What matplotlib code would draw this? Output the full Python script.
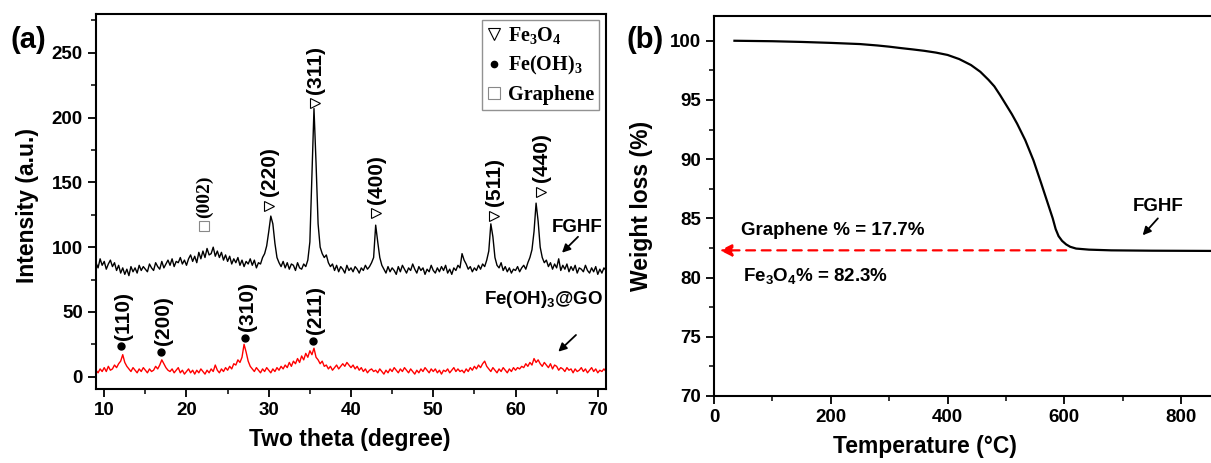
import numpy as np
import matplotlib
matplotlib.use("Agg")
import matplotlib.pyplot as plt
from matplotlib.lines import Line2D
from matplotlib.ticker import MultipleLocator

plt.rcParams['font.family'] = ['Liberation Sans', 'DejaVu Sans']
plt.rcParams['font.weight'] = 'bold'
plt.rcParams['mathtext.fontset'] = 'custom'
plt.rcParams['mathtext.bf'] = 'Liberation Serif:bold'
plt.rcParams['mathtext.sf'] = 'Liberation Sans:bold'
plt.rcParams['mathtext.rm'] = 'Liberation Sans:bold'

# ---------------- data: XRD (panel a) ----------------
theta_start, theta_step = 9.0, 0.25
fghf_intensity = [
    88, 84, 91, 86,   89, 83, 87, 90,   85, 88, 82, 86,   80, 84, 79, 83,
    78, 85, 81, 84,   80, 86, 82, 85,   83, 81, 87, 84,   82, 88, 85, 83,
    89, 84, 87, 90,   86, 91, 85, 89,   88, 92, 87, 90,   86, 91, 94, 89,
    93, 88, 96, 91,   97, 92, 99, 94,   95, 100, 93, 97,  92, 96, 90, 94,
    89, 93, 87, 91,   88, 92, 86, 90,   85, 89, 87, 91,   86, 90, 84, 88,
    87, 92, 95, 101,  112, 124, 118, 103, 92, 88, 85, 89, 84, 88, 83, 87,
    86, 82, 88, 84,   83, 87, 85, 90,   104, 155, 207, 165, 118, 100, 95, 92,
    94, 88, 85, 87,   82, 86, 81, 85,   83, 80, 86, 82,   84, 81, 85, 83,
    80, 84, 82, 86,   83, 85, 88, 92,   117, 104, 92, 86,  83, 80, 85, 81,
    84, 82, 79, 85,   81, 86, 83, 80,   84, 82, 87, 83,   80, 85, 82, 84,
    79, 83, 81, 86,   82, 80, 84, 81,   85, 82, 86, 80,   83, 79, 84, 82,
    86, 84, 95, 90,   87, 83, 85, 81,   84, 82, 86, 83,   87, 85, 90, 97,
    118, 108, 92, 86, 84, 88, 82, 85,   81, 84, 80, 83,   82, 85, 81, 84,
    86, 83, 88, 92,   98, 112, 134, 120, 100, 92, 88, 90,  85, 88, 83, 87,
    84, 91, 82, 86,   83, 87, 81, 85,   82, 86, 80, 84,   83, 81, 86, 82,
    80, 84, 81, 85,   79, 83, 80, 84,   82,
]
feoh_go_intensity = [
    5, 3, 6, 4,    7, 4, 8, 5,    6, 9, 7, 10,   12, 17, 11, 8,
    6, 4, 7, 5,    3, 6, 4, 7,    5, 3, 6, 4,    5, 8, 6, 9,
    13, 10, 7, 5,  4, 6, 3, 5,    7, 3, 5, 2,    4, 6, 3, 5,
    2, 5, 3, 6,    4, 2, 5, 3,    6, 4, 9, 5,    3, 6, 4, 7,
    5, 8, 6, 10,   9, 13, 11, 15, 25, 19, 12, 8,  6, 4, 7, 5,
    3, 6, 4, 7,    5, 3, 6, 4,    7, 5, 8, 6,    9, 7, 11, 8,
    12, 10, 14, 11, 16, 13, 18, 15, 20, 17, 22, 15, 13, 10, 12, 8,
    9, 6, 8, 5,    7, 9, 6, 8,    10, 8, 11, 9,  7, 9, 6, 8,
    5, 7, 4, 6,    3, 5, 6, 4,    5, 3, 6, 4,    2, 5, 3, 6,
    4, 7, 5, 3,    6, 4, 7, 5,    3, 6, 4, 2,    5, 3, 6, 4,
    7, 5, 3, 6,    4, 6, 3, 5,    2, 5, 4, 6,    3, 5, 7, 4,
    6, 4, 5, 3,    6, 4, 7, 5,    8, 6, 9, 7,    10, 12, 8, 6,
    4, 7, 5, 3,    6, 4, 7, 5,    3, 6, 4, 7,    5, 7, 6, 8,
    7, 10, 8, 11,  9, 14, 11, 13, 10, 8, 11, 9,  7, 10, 6, 9,
    8, 5, 7, 6,    4, 7, 5, 6,    3, 6, 4, 5,    7, 4, 6, 3,
    5, 7, 4, 6,    3, 5, 4, 6,    4,
]
two_theta = theta_start + theta_step * np.arange(len(fghf_intensity))

# peak markers / labels
fe3o4_labels = ["(220)", "(311)", "(400)", "(511)", "(440)"]
fe3o4_pos = [30.05, 35.6, 43.05, 57.4, 63.1]
fe3o4_mark_y = [132, 211, 126, 124, 142.5]
graphene_labels = ["(002)"]
graphene_pos = [22.07]
graphene_mark_y = [116]
feoh_labels = ["(110)", "(200)", "(310)", "(211)"]
feoh_pos = [12.07, 16.93, 27.13, 35.36]
feoh_mark_y = [23.7, 19.4, 30.2, 27.6]

# ---------------- data: TGA (panel b) ----------------
temperature = [35, 100, 150, 200, 250, 280, 300, 320, 340, 360, 380, 400, 420,
               440, 456, 470, 480, 490, 500, 510, 519, 533, 547, 560, 570, 580,
               585, 590, 596, 603, 610, 620, 642, 680, 750, 860]
weight = [100.0, 99.96, 99.9, 99.82, 99.72, 99.6, 99.5, 99.38, 99.27, 99.15,
          99.0, 98.8, 98.45, 97.95, 97.38, 96.7, 96.15, 95.4, 94.6, 93.8, 93.0,
          91.6, 89.9, 88.0, 86.5, 85.0, 84.1, 83.5, 83.1, 82.8, 82.6, 82.45,
          82.36, 82.3, 82.27, 82.25]
residue = 82.3

# ---------------- figure ----------------
W, H = 1211, 463
fig = plt.figure(figsize=(W / 100, H / 100), dpi=100)

def frac(l, t, r, b):
    return [l / W, 1 - b / H, (r - l) / W, (b - t) / H]

axA = fig.add_axes(frac(96, 14, 606, 389))
axB = fig.add_axes(frac(714, 16, 1211, 396))

TICK = 13.5
PEAK = 15
for ax in (axA, axB):
    for s in ax.spines.values():
        s.set_linewidth(1.5)
    ax.tick_params(which='major', direction='out', length=6, width=1.3,
                   labelsize=TICK, top=False, right=False)
    ax.tick_params(which='minor', direction='out', length=3.5, width=1.1,
                   top=False, right=False)

# panel a
axA.plot(two_theta, fghf_intensity, color='black', lw=1.0)
axA.plot(two_theta, feoh_go_intensity, color='#ff0000', lw=1.0)
axA.set_xlim(9.0, 71.0)
axA.set_ylim(-9.5, 280)
axA.xaxis.set_major_locator(MultipleLocator(10))
axA.xaxis.set_minor_locator(MultipleLocator(5))
axA.yaxis.set_major_locator(MultipleLocator(50))
axA.yaxis.set_minor_locator(MultipleLocator(25))
axA.set_xlabel("Two theta (degree)", fontsize=16.5, fontweight='bold')
axA.set_ylabel("Intensity (a.u.)", fontsize=16.5, fontweight='bold')
axA.xaxis.set_label_coords(0.498, -0.105)
axA.yaxis.set_label_coords(-0.112, 0.49)

axA.plot(fe3o4_pos, fe3o4_mark_y, linestyle='none', marker='>', markersize=7.5,
         markerfacecolor='white', markeredgecolor='black', markeredgewidth=0.8)
for x, y, t in zip(fe3o4_pos, fe3o4_mark_y, fe3o4_labels):
    axA.text(x + 0.1, y + 7.5, t, rotation=90, ha='center', va='bottom',
             fontsize=PEAK, fontweight='bold')
axA.plot(graphene_pos, graphene_mark_y, linestyle='none', marker='s',
         markersize=7, markerfacecolor='white', markeredgecolor='#888888',
         markeredgewidth=0.8)
for x, y, t in zip(graphene_pos, graphene_mark_y, graphene_labels):
    axA.text(x + 0.15, y + 6.5, t, rotation=90, ha='center', va='bottom',
             fontsize=14, fontweight='bold', family='Liberation Serif')
axA.plot(feoh_pos, feoh_mark_y, linestyle='none', marker='o', markersize=5,
         color='black')
for x, y, t in zip(feoh_pos, feoh_mark_y, feoh_labels):
    axA.text(x + 0.3, y + 5, t, rotation=90, ha='center', va='bottom',
             fontsize=PEAK, fontweight='bold')

axA.text(70.6, 109, "FGHF", ha='right', va='bottom', fontsize=13.5,
         fontweight='bold')
axA.annotate('', xy=(65.65, 95.7), xytext=(67.6, 108),
             arrowprops=dict(arrowstyle='-|>', color='black', lw=1.3,
                             mutation_scale=12, shrinkA=0, shrinkB=0))
axA.text(70.6, 51.5, r"Fe(OH)$\mathsf{_3}$@GO", ha='right', va='bottom',
         fontsize=13.5, fontweight='bold')
axA.annotate('', xy=(65.2, 19.3), xytext=(67.35, 32.2),
             arrowprops=dict(arrowstyle='-|>', color='black', lw=1.3,
                             mutation_scale=12, shrinkA=0, shrinkB=0))

handles = [
    Line2D([], [], linestyle='none', marker='v', markersize=9,
           markerfacecolor='white', markeredgecolor='black', markeredgewidth=0.8),
    Line2D([], [], linestyle='none', marker='o', markersize=4.5, color='black'),
    Line2D([], [], linestyle='none', marker='s', markersize=9,
           markerfacecolor='white', markeredgecolor='#888888', markeredgewidth=0.8),
]
leg_labels = [r"Fe$\mathbf{_3}$O$\mathbf{_4}$", r"Fe(OH)$\mathbf{_3}$", "Graphene"]
leg = axA.legend(handles, leg_labels, loc='upper right',
                 bbox_to_anchor=(0.986, 0.984), borderaxespad=0,
                 prop={'family': 'Liberation Serif', 'weight': 'bold', 'size': 14.5},
                 frameon=True, fancybox=False, edgecolor='#777777',
                 handlelength=0.7, handletextpad=0.3, borderpad=0.25,
                 labelspacing=0.4)
leg.get_frame().set_linewidth(1.0)

# panel b
axB.plot(temperature, weight, color='black', lw=1.6)
axB.set_xlim(0, 851)
axB.set_ylim(70, 102.09)
axB.spines['right'].set_visible(False)
axB.xaxis.set_major_locator(MultipleLocator(200))
axB.xaxis.set_minor_locator(MultipleLocator(100))
axB.yaxis.set_major_locator(MultipleLocator(5))
axB.yaxis.set_minor_locator(MultipleLocator(2.5))
axB.set_xlabel("Temperature (°C)", fontsize=16.5, fontweight='bold')
axB.set_ylabel("Weight loss (%)", fontsize=16.5, fontweight='bold')
axB.xaxis.set_label_coords(0.425, -0.103)
axB.yaxis.set_label_coords(-0.122, 0.5)

axB.annotate('', xy=(10, residue), xytext=(603, residue),
             arrowprops=dict(arrowstyle='-|>', color='#ff0000', lw=1.6,
                             linestyle=(0, (4, 3)), mutation_scale=18,
                             shrinkA=0, shrinkB=0))
axB.text(46, 84.0, "Graphene % = 17.7%", ha='left', va='center',
         fontsize=13.5, fontweight='bold')
axB.text(50, 79.75, r"Fe$\mathsf{_3}$O$\mathsf{_4}$% = 82.3%", ha='left',
         va='baseline', fontsize=13.5, fontweight='bold')
axB.text(760, 86.0, "FGHF", ha='center', va='center', fontsize=13.5,
         fontweight='bold')
axB.annotate('', xy=(734, 83.57), xytext=(760, 85.0),
             arrowprops=dict(arrowstyle='-|>', color='black', lw=1.3,
                             mutation_scale=12, shrinkA=0, shrinkB=0))

fig.text(10 / W, 1 - 40 / H, "(a)", fontsize=21, fontweight='bold',
         ha='left', va='center')
fig.text(626 / W, 1 - 40 / H, "(b)", fontsize=21, fontweight='bold',
         ha='left', va='center')

fig.savefig("out.png", dpi=100)
